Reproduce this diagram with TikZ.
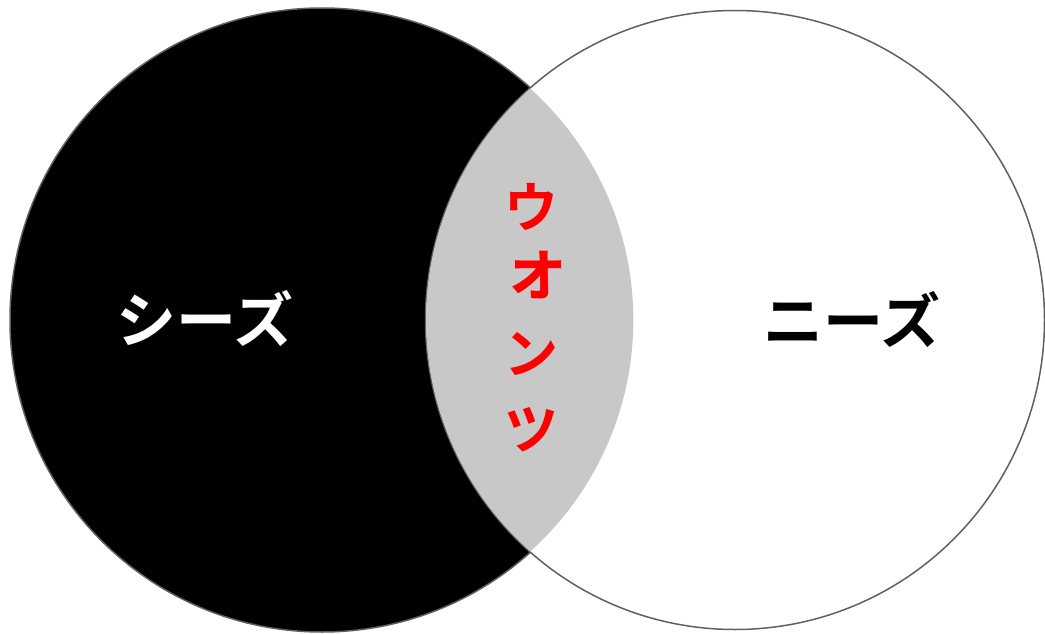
\documentclass[tikz,border=0pt]{standalone}
\usepackage{fontspec}
\newfontfamily\cjk{Noto Sans CJK JP}[BoldFont={Noto Sans CJK JP Bold}]
\definecolor{lensgray}{RGB}{200,200,200}
\definecolor{rimgray}{RGB}{96,96,96}
\begin{document}
\begin{tikzpicture}[x=1pt,y=-1pt,
  rim/.style={draw=rimgray,line width=1.5pt},
  bigtxt/.style={font=\cjk\bfseries\fontsize{60}{64}\selectfont,inner sep=0pt},
  redtxt/.style={font=\cjk\bfseries\fontsize{54}{58}\selectfont,text=red,inner sep=0pt}]
\useasboundingbox (0,0) rectangle (1045,634);
\fill[white] (0,0) rectangle (1045,634);
\path[rim,fill=black] (322,320) circle[radius=312];
\path[rim,fill=white] (735,320) circle[radius=309.5];
\begin{scope}
  \clip (322,320) circle[radius=311.3];
  \fill[lensgray] (735,320) circle[radius=309];
\end{scope}
\node[bigtxt,text=white] (seeds) at (205,319) {シーズ};
\node[bigtxt,text=black] (needs) at (852,320) {ニーズ};
\node[redtxt] (w1) at (531,207) {ウ};
\node[redtxt,font=\cjk\bfseries\fontsize{68}{72}\selectfont] (w2) at (536,275) {ォ};
\node[redtxt] (w3) at (531,354) {ン};
\node[redtxt] (w4) at (531,430) {ツ};
\end{tikzpicture}
\end{document}
